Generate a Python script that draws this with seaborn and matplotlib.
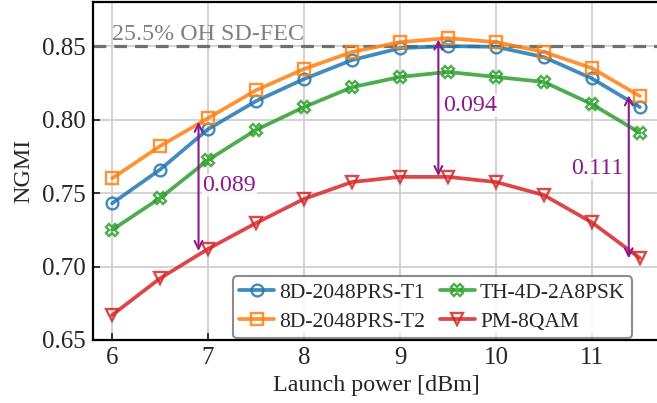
import numpy as np
import pandas as pd
import matplotlib
matplotlib.use("Agg")
import matplotlib.pyplot as plt
import seaborn as sns

# ---- data ----
launch_power = [6.0, 6.5, 7.0, 7.5, 8.0, 8.5, 9.0, 9.5, 10.0, 10.5, 11.0, 11.5]
t1 = [0.743, 0.766, 0.7935, 0.8126, 0.8276, 0.8405, 0.8486, 0.850, 0.8495, 0.8425, 0.828, 0.8085]
t2 = [0.760, 0.782, 0.801, 0.820, 0.8344, 0.846, 0.8527, 0.8554, 0.8527, 0.846, 0.835, 0.816]
th4d = [0.725, 0.7466, 0.7725, 0.793, 0.8085, 0.822, 0.829, 0.8324, 0.829, 0.8256, 0.8105, 0.791]
pm8qam = [0.667, 0.692, 0.712, 0.7296, 0.746, 0.7575, 0.761, 0.761, 0.7575, 0.7486, 0.730, 0.7058]
series_names = ["8D-2048PRS-T1", "8D-2048PRS-T2", "TH-4D-2A8PSK", "PM-8QAM"]
fec_threshold = 0.85
fec_label = "25.5% OH SD-FEC"
gap_x = [6.9, 9.4, 11.385]
gap_top = [0.7985, 0.8545, 0.8165]
gap_bottom = [0.7105, 0.7615, 0.7055]
gap_labels = ["0.089", "0.094", "0.111"]

sns.set_style("ticks")
plt.rcParams["font.family"] = ["Liberation Serif", "DejaVu Serif"]
plt.rcParams["mathtext.fontset"] = "stix"

fig = plt.figure(figsize=(6.57, 4.03), dpi=100)
ax = fig.add_axes([93 / 657, 63 / 403, 566 / 657, 338 / 403])

colors = ["#1f77b4", "#ff7f0e", "#2ca02c", "#d62728"]
markers = ["o", "s", "X", "v"]
data = [t1, t2, th4d, pm8qam]

ax.axhline(fec_threshold, color="#707070", ls=(0, (4, 2.5)), lw=2.3, zorder=1)

for name, vals, c, m in zip(series_names, data, colors, markers):
    df = pd.DataFrame({"x": launch_power, "y": vals})
    sns.lineplot(data=df, x="x", y="y", ax=ax, color=c, marker=m, markersize=8.5,
                 mfc="none", mec=c, mew=1.7, lw=2.7, alpha=0.85, label=name, zorder=3)

FS = 17.3
ax.text(6.0, 0.8508, fec_label, color="#808080", fontsize=FS, ha="left", va="bottom", zorder=2)

purple = "#8b1a8b"
for gx, gt, gb in zip(gap_x, gap_top, gap_bottom):
    ax.annotate("", xy=(gx, gb), xytext=(gx, gt),
                arrowprops=dict(arrowstyle="<->", color=purple, lw=1.5,
                                shrinkA=0, shrinkB=0, mutation_scale=14), zorder=4)
box = dict(facecolor="white", edgecolor="none", pad=0.5, alpha=0.8)
ax.text(6.94, 0.755, gap_labels[0], color=purple, fontsize=FS, ha="left", va="center", bbox=box)
ax.text(9.45, 0.8095, gap_labels[1], color=purple, fontsize=FS, ha="left", va="center", bbox=box)
ax.text(11.33, 0.7665, gap_labels[2], color=purple, fontsize=FS, ha="right", va="center", bbox=box)

ax.set_xlim(5.8, 11.7)
ax.set_ylim(0.65, 0.88)
ax.set_xticks([6, 7, 8, 9, 10, 11])
ax.set_yticks([0.65, 0.70, 0.75, 0.80, 0.85])
ax.set_yticklabels(["0.65", "0.70", "0.75", "0.80", "0.85"])
ax.grid(True, color="#d0d0d0", lw=1.3, zorder=0)
ax.set_axisbelow(True)
ax.tick_params(direction="in", labelsize=18, length=5, width=1.3, pad=5)
for s in ax.spines.values():
    s.set_visible(True)
    s.set_linewidth(1.6)
    s.set_color("black")
ax.set_xlabel("Launch power [dBm]", fontsize=FS, labelpad=4)
ax.set_ylabel("NGMI", fontsize=FS, labelpad=6)

leg = ax.legend(loc="lower right", bbox_to_anchor=(0.952, 0.006), ncol=2, fontsize=15.5,
                frameon=True, fancybox=True, edgecolor="#808080", framealpha=0.9,
                handlelength=1.6, columnspacing=0.7, handletextpad=0.25, borderpad=0.3,
                labelspacing=0.4, borderaxespad=0)
leg.get_frame().set_linewidth(1.5)

fig.savefig("out.png", dpi=100)
